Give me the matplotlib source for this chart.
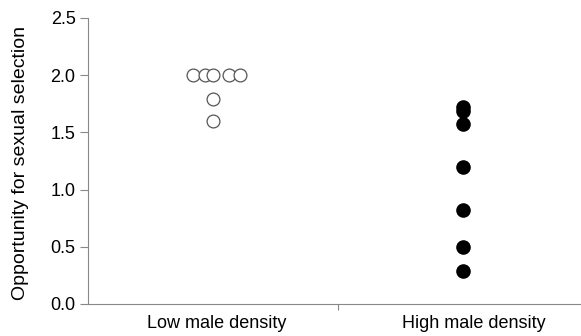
import matplotlib.pyplot as plt
import numpy as np

plt.rcParams['font.family'] = ['Liberation Sans', 'DejaVu Sans']

# group labels
groups = ['Low male density', 'High male density']

# low density: x offset within group and opportunity value
low_offsets = [-0.08, -0.032, 0.0, 0.064, 0.108, 0.0, 0.0]
low_values = [2.0, 2.0, 2.0, 2.0, 2.0, 1.79, 1.6]

# high density
high_offsets = [0, 0, 0, 0, 0, 0, 0]
high_values = [1.72, 1.69, 1.57, 1.20, 0.82, 0.50, 0.29]

yticks = [0.0, 0.5, 1.0, 1.5, 2.0, 2.5]

fig = plt.figure(figsize=(5.81, 3.36), dpi=100)
ax = fig.add_axes([88/581, 1 - 304/336, 500/581, 286/336])

ax.scatter(np.array(low_offsets) + 0, low_values, s=85, facecolors='white',
           edgecolors='#555555', linewidths=0.9, zorder=3, clip_on=False)
ax.scatter(np.array(high_offsets) + 1, high_values, s=90, color='black',
           zorder=3, clip_on=False)

ax.set_xlim(-0.5, 1.5)
ax.set_ylim(0, 2.5)
ax.set_yticks(yticks)
ax.set_yticklabels([f'{v:.1f}' for v in yticks], fontsize=13)
ax.set_ylabel('Opportunity for sexual selection', fontsize=14)
ax.yaxis.set_label_coords(-0.117, 0.494)

# category names sit a little right of the points, tick at the group boundary
ax.set_xticks([0.5])
ax.set_xticklabels([''])
ax.set_xticks([0.016, 1.045], minor=True)
ax.set_xticklabels(groups, minor=True, fontsize=13)
ax.tick_params(axis='x', which='minor', length=0, pad=8)
ax.tick_params(axis='x', which='major', length=4, color='#888888')
ax.tick_params(axis='y', length=6, color='#888888', pad=3)

for side in ['top', 'right']:
    ax.spines[side].set_visible(False)
for side in ['left', 'bottom']:
    ax.spines[side].set_color('#888888')
    ax.spines[side].set_linewidth(0.8)

fig.savefig('out.png', dpi=100)
